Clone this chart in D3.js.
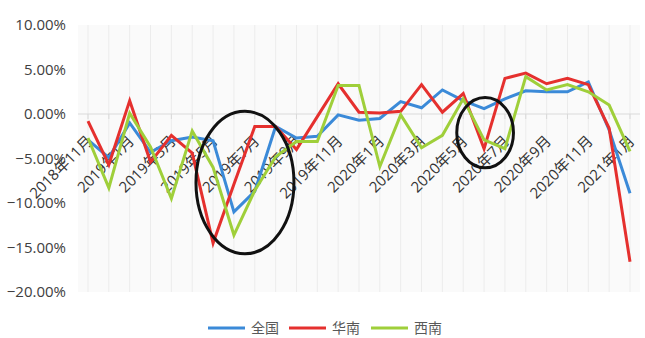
<!DOCTYPE html>
<html>
<head>
<meta charset="utf-8">
<script src="https://cdn.jsdelivr.net/npm/d3@7"></script>
<style>
  html, body { margin: 0; padding: 0; background: #fff; }
  svg { display: block; }
</style>
</head>
<body>
<svg id="chart" width="645" height="338"></svg>
<script>
// ---- data ----
const months = [
  "2018年11月","2018年12月","2019年1月","2019年2月","2019年3月","2019年4月","2019年5月",
  "2019年6月","2019年7月","2019年8月","2019年9月","2019年10月","2019年11月","2019年12月",
  "2020年1月","2020年2月","2020年3月","2020年4月","2020年5月","2020年6月","2020年7月",
  "2020年8月","2020年9月","2020年10月","2020年11月","2020年12月","2021年1月"
];
const quanguo = [-2.9,-4.9,-1.0,-4.3,-3.0,-2.6,-3.0,-11.0,-8.7,-1.4,-2.7,-2.5,-0.1,-0.7,-0.5,1.4,0.7,2.7,1.5,0.6,1.7,2.6,2.5,2.5,3.6,-1.8,-8.9];
const huanan  = [-0.8,-5.7,1.5,-5.4,-2.4,-4.4,-14.5,-7.9,-1.4,-1.4,-4.0,-0.3,3.4,0.2,0.1,0.3,3.3,0.2,2.3,-3.9,4.0,4.6,3.4,4.0,3.3,-1.6,-16.6];
const xinan   = [-2.7,-8.3,0.1,-3.7,-9.5,-1.9,-6.0,-13.6,-8.6,-4.8,-3.1,-3.1,3.2,3.2,-5.9,-0.1,-3.8,-2.4,1.7,-2.9,-3.9,4.2,2.7,3.3,2.5,1.0,-4.2];
const seriesNames = ["全国","华南","西南"];
const yTicks = [-20,-15,-10,-5,0,5,10];
const xTickLabels = months.filter((m, i) => i % 2 === 0);
// annotation ellipses: center (category index, value), radius (categories, value units)
const ellipses = [
  {ci: 7.53, cv: -7.7, rci: 2.35, rv: 8.0},
  {ci: 19.05, cv: -2.1, rci: 1.36, rv: 3.95}
];

// ---- layout ----
const colors = ["#3b8ad8", "#e5302e", "#9fcf3a"];
const svg = d3.select("#chart");
const plotL = 78, plotR = 640, plotT = 25, plotB = 292;

const x = d3.scalePoint().domain(months).range([88, 630]);
const y = d3.scaleLinear().domain([-20, 10]).range([plotB, plotT]);
const step = x.step();

// plot background
svg.append("rect").attr("x", plotL).attr("y", plotT).attr("width", plotR - plotL)
  .attr("height", plotB - plotT).attr("fill", "#fafafa");

// vertical gridlines
svg.append("g").selectAll("line").data(months).join("line")
  .attr("x1", d => x(d)).attr("x2", d => x(d))
  .attr("y1", plotT).attr("y2", plotB)
  .attr("stroke", "#ececec").attr("stroke-width", 1);

// zero axis line
svg.append("line").attr("x1", plotL).attr("x2", plotR)
  .attr("y1", y(0)).attr("y2", y(0)).attr("stroke", "#d9d9d9").attr("stroke-width", 1.2);
// tick marks
svg.append("g").selectAll("line").data(months).join("line")
  .attr("x1", d => x(d)).attr("x2", d => x(d))
  .attr("y1", y(0)).attr("y2", y(0) + 5)
  .attr("stroke", "#d9d9d9");

// y axis labels
const yAxis = d3.axisLeft(y).tickValues(yTicks).tickSize(0).tickPadding(0)
  .tickFormat(d => d3.format(".2f")(d) + "%");
const gy = svg.append("g").attr("transform", "translate(66,0)").call(yAxis);
gy.select(".domain").remove();
gy.selectAll("text").attr("font-family", "'Open Sans', 'Liberation Sans', sans-serif")
  .attr("font-size", 15).attr("fill", "#404040");

// x axis labels (rotated)
const xAxis = d3.axisBottom(x).tickValues(xTickLabels).tickSize(0).tickPadding(0);
const gx = svg.append("g").attr("transform", `translate(0,${y(0)})`).call(xAxis);
gx.select(".domain").remove();
gx.selectAll("text")
  .attr("font-family", "'Open Sans', 'Noto Sans CJK SC', sans-serif")
  .attr("font-size", 15).attr("fill", "#333")
  .attr("text-anchor", "end")
  .attr("dy", null).attr("y", null)
  .attr("transform", "translate(5,28) rotate(-45)");

// lines
const allSeries = [quanguo, huanan, xinan];
const line = d3.line().x((d, i) => x(months[i])).y(d => y(d));
svg.append("g").selectAll("path").data(allSeries).join("path")
  .attr("d", d => line(d))
  .attr("fill", "none")
  .attr("stroke", (d, i) => colors[i])
  .attr("stroke-width", 3)
  .attr("stroke-linejoin", "miter");

// annotation ellipses
svg.append("g").selectAll("ellipse").data(ellipses).join("ellipse")
  .attr("cx", d => 88 + d.ci * step)
  .attr("cy", d => y(d.cv))
  .attr("rx", d => d.rci * step)
  .attr("ry", d => y(0) - y(d.rv))
  .attr("fill", "none").attr("stroke", "#111").attr("stroke-width", 3);

// legend
const legendX = [208, 289, 371];
const lg = svg.append("g");
seriesNames.forEach((name, i) => {
  lg.append("line").attr("x1", legendX[i]).attr("x2", legendX[i] + 37)
    .attr("y1", 328).attr("y2", 328).attr("stroke", colors[i]).attr("stroke-width", 3);
  lg.append("text").attr("x", legendX[i] + 43).attr("y", 328).attr("dy", "0.36em")
    .attr("font-family", "'Noto Sans CJK SC', sans-serif").attr("font-size", 14)
    .attr("fill", "#595959").text(name);
});
</script>
</body>
</html>
